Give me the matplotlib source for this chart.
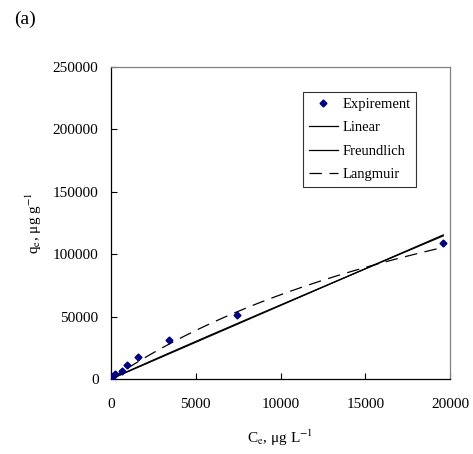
import numpy as np
import matplotlib
matplotlib.use('Agg')
import matplotlib.pyplot as plt

plt.rcParams['font.family'] = ['Liberation Serif', 'DejaVu Serif']
plt.rcParams['mathtext.fontset'] = 'stix'

# experimental points (Ce in ug/L, qe in ug/g)
ce_exp = [20, 100, 236, 650, 926, 1575, 3420, 7420, 19600]
qe_exp = [300, 2400, 3800, 6400, 11000, 17600, 31000, 51500, 109200]

# fitted model parameters
lin_slope = 5.89
freund_kf = 7.2
freund_n_inv = 0.979
lang_qm = 255000
lang_k = 3.6e-5

c_fit = np.linspace(0, 19600, 300)
q_lin = lin_slope * c_fit
q_fre = freund_kf * c_fit ** freund_n_inv
q_lan = lang_qm * lang_k * c_fit / (1 + lang_k * c_fit)

fig = plt.figure(figsize=(4.73, 4.54), dpi=100)
ax = fig.add_axes([0.2347, 0.1652, 0.7167, 0.6872])

ax.plot(ce_exp, qe_exp, linestyle='none', marker='D', markersize=3.5,
        color='#000080', label='Expirement', zorder=3)
ax.plot(c_fit, q_lin, color='black', lw=0.9, label='Linear')
ax.plot(c_fit, q_fre, color='black', lw=0.9, label='Freundlich')
ax.plot(c_fit, q_lan, color='black', lw=0.9, dashes=(10, 6), label='Langmuir')

ax.set_xlim(0, 20000)
ax.set_ylim(0, 250000)
ax.set_xticks([0, 5000, 10000, 15000, 20000])
ax.set_yticks([0, 50000, 100000, 150000, 200000, 250000])
ax.tick_params(direction='in', length=4, width=0.8, labelsize=11)
ax.tick_params(axis='x', pad=14)
ax.tick_params(axis='y', pad=9)

for s in ['top', 'right']:
    ax.spines[s].set_color('#808080')
for s in ['left', 'bottom']:
    ax.spines[s].set_color('black')
for s in ax.spines.values():
    s.set_linewidth(0.9)

ax.set_xlabel(r'C$_\mathrm{e}$, μg L$^{-1}$', fontsize=11, labelpad=12)
ax.set_ylabel(r'q$_\mathrm{e}$, μg g$^{-1}$', fontsize=11, labelpad=6)

leg = ax.legend(loc='upper left', bbox_to_anchor=(0.566, 0.92), fontsize=10.5,
                frameon=True, fancybox=False, edgecolor='black',
                handlelength=2.0, borderpad=0.4, labelspacing=0.7,
                handletextpad=0.3, borderaxespad=0)
leg.get_frame().set_linewidth(0.8)

fig.text(0.03, 0.958, '(a)', fontsize=14, va='center', ha='left')

fig.savefig('out.png', dpi=100)
